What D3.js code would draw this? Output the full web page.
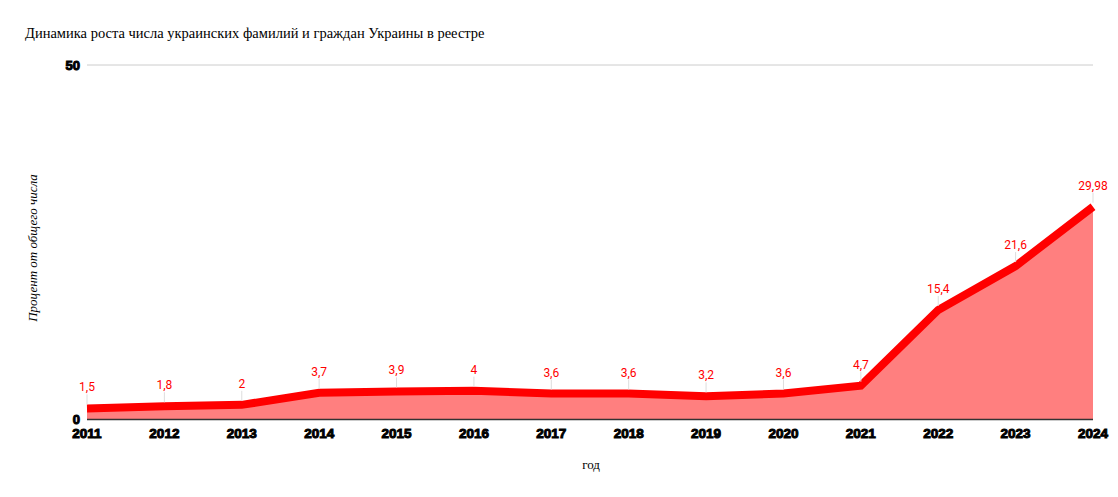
<!DOCTYPE html>
<html><head><meta charset="utf-8">
<script src="https://cdn.jsdelivr.net/npm/d3@7"></script>
<style>body{margin:0;background:#fff}svg{display:block}</style>
</head><body>
<svg id="c" width="1118" height="497"></svg>
<script>
const years = ["2011","2012","2013","2014","2015","2016","2017","2018","2019","2020","2021","2022","2023","2024"];
const values = [1.5,1.8,2,3.7,3.9,4,3.6,3.6,3.2,3.6,4.7,15.4,21.6,29.98];
const valueLabels = ["1,5","1,8","2","3,7","3,9","4","3,6","3,6","3,2","3,6","4,7","15,4","21,6","29,98"];
const yTicks = [0,50];
const title = "Динамика роста числа украинских фамилий и граждан Украины в реестре";
const xTitle = "год";
const yTitle = "Процент от общего числа";

const serif = "'Liberation Serif','Times New Roman','DejaVu Serif',serif";
const svg = d3.select("#c");
const x = d3.scalePoint().domain(years).range([87,1093]);
const y = d3.scaleLinear().domain([0,50]).range([419,65]);

svg.append("text").attr("x",25).attr("y",38).style("font-family",serif).attr("font-size",14.5).attr("fill","#000").text(title);

// gridline
svg.selectAll(".grid").data(yTicks.filter(d=>d>0)).join("line")
  .attr("x1",87).attr("x2",1093).attr("y1",d=>y(d)).attr("y2",d=>y(d)).attr("stroke","#ccc").attr("stroke-width",1);

// y tick labels
svg.selectAll(".yt").data(yTicks).join("text")
  .attr("x",80).attr("y",d=>y(d)+4.5).attr("text-anchor","end")
  .attr("font-family","Liberation Sans").attr("font-weight","bold").attr("font-size",13).attr("fill","#000")
  .style("paint-order","stroke").attr("stroke","#000").attr("stroke-width",1)
  .text(d=>d);

const data = years.map((yr,i)=>({yr, v:values[i], lab:valueLabels[i]}));

svg.append("path").datum(data)
  .attr("d", d3.area().x(d=>x(d.yr)).y0(y(0)).y1(d=>y(d.v)))
  .attr("fill","#ff7f7f");

// axis baseline
svg.append("line").attr("x1",87).attr("x2",1093).attr("y1",y(0)+0.5).attr("y2",y(0)+0.5).attr("stroke","#333").attr("stroke-width",1.5);

svg.append("path").datum(data)
  .attr("d", d3.line().x(d=>x(d.yr)).y(d=>y(d.v)))
  .attr("fill","none").attr("stroke","#ff0000").attr("stroke-width",8).attr("stroke-linejoin","miter");

// leader lines
svg.selectAll(".ld").data(data).join("line")
  .attr("x1",d=>x(d.yr)).attr("x2",d=>x(d.yr))
  .attr("y1",d=>y(d.v)-14).attr("y2",d=>y(d.v)-4)
  .attr("stroke","#ddd").attr("stroke-width",1);

svg.selectAll(".lb").data(data).join("text")
  .attr("x",d=>x(d.yr)).attr("y",d=>y(d.v)-17).attr("text-anchor","middle")
  .attr("font-family","Roboto").attr("font-size",12).attr("fill","#ff0000")
  .text(d=>d.lab);

// x tick labels
svg.selectAll(".xt").data(years).join("text")
  .attr("x",d=>x(d)).attr("y",438).attr("text-anchor","middle")
  .attr("font-family","Liberation Sans").attr("font-weight","bold").attr("font-size",13.5).attr("fill","#000")
  .style("paint-order","stroke").attr("stroke","#000").attr("stroke-width",1)
  .text(d=>d);

svg.append("text").attr("x",591).attr("y",469).attr("text-anchor","middle")
  .style("font-family",serif).attr("font-size",13).attr("fill","#000").text(xTitle);

svg.append("text").attr("transform","translate(37,248) rotate(-90)").attr("text-anchor","middle")
  .style("font-family",serif).attr("font-style","italic").attr("font-size",13).attr("fill","#000").text(yTitle);
</script>
</body></html>
